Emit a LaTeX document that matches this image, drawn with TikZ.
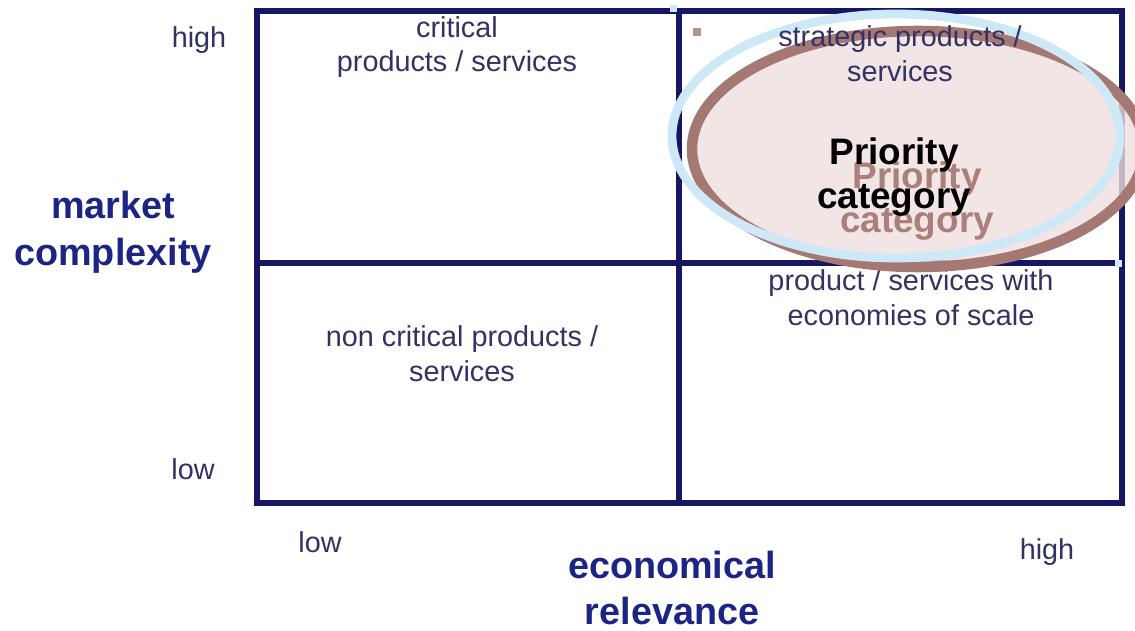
\documentclass[tikz,border=0pt]{standalone}
\usepackage{fontspec}
\setmainfont{Liberation Sans}
\definecolor{gridnavy}{RGB}{22,22,100}
\definecolor{labnavy}{RGB}{50,50,100}
\definecolor{axisnavy}{RGB}{28,36,132}
\definecolor{ringbrown}{RGB}{165,120,115}
\definecolor{ringblue}{RGB}{205,232,246}
\definecolor{ringfill}{RGB}{238,222,222}
\definecolor{shadowbrown}{RGB}{172,128,122}
\tikzset{
  small/.style={text=labnavy, align=center, inner sep=0pt,
    font=\fontsize{16.4}{19.8}\selectfont},
  axis/.style={text=axisnavy, align=center, inner sep=0pt,
    font=\fontsize{21.5}{26.6}\selectfont\bfseries},
  prio/.style={align=center, inner sep=0pt,
    font=\fontsize{21}{25}\selectfont\bfseries},
}
\begin{document}
\begin{tikzpicture}[x=0.02cm, y=-0.02cm]
            \useasboundingbox (0,0) rectangle (1135,631);
            % grid
            \draw[gridnavy, line width=3] (257,11) rectangle (1122,503);
            \draw[gridnavy, line width=3] (679,11) -- (679,503);
            \draw[gridnavy, line width=3] (257,263) -- (1122,263);
            % pink fill of the ring
            \fill[ringfill, fill opacity=0.8] (918,149) ellipse [x radius=226, y radius=118];
            % quadrant texts
            \node[small] (crit) at (457,47) {critical\\products / services};
            \node[small] (noncrit) at (462,354) {non critical products /\\services};
            \node[small] (scale) at (911,298) {product / services with\\economies of scale};
            % the two rings
            \draw[ringbrown, line width=6] (918,149) ellipse [x radius=226, y radius=118];
            \draw[ringblue, line width=5] (896,136) ellipse [x radius=224, y radius=122];
            \fill[ringblue] (670,5) rectangle +(7,7);
            \fill[ringblue] (1115,260) rectangle +(7,7);
            \fill[ringbrown!80!white] (693,28) rectangle +(8,8);
            \node[small] (strat) at (900,54) {strategic products /\\services};
            % axis labels
            \node[small] (yhigh) at (199,40) {high};
            \node[small] (ylow) at (193,469) {low};
            \node[small] (xlow) at (320,542) {low};
            \node[small] (xhigh) at (1047,552) {high};
            \node[axis] (ylab) at (113,232) {market\\complexity};
            \node[axis] (xlab) at (672,588) {economical\\relevance};
            % priority label with its shadow
            \node[prio, text=shadowbrown] (prioshadow) at (917,201) {Priority\\category};
            \node[prio] (prio) at (894,177) {Priority\\category};
        \end{tikzpicture}
\end{document}
